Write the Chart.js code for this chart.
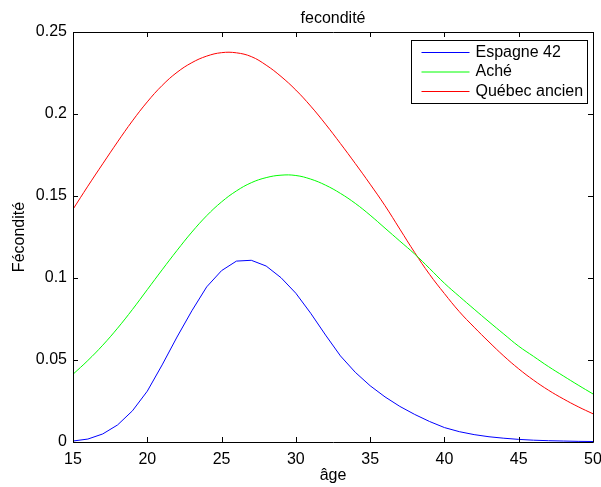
<!DOCTYPE html>
<html>
<head>
<meta charset="utf-8">
<script src="https://cdn.jsdelivr.net/npm/chart.js@4/dist/chart.umd.min.js"></script>
<style>
  body { margin: 0; background: #fff; }
  canvas { display: block; }
</style>
</head>
<body>
<canvas id="grafico" width="601" height="487"></canvas>
<script>
/* donnees */
var ages = [15,16,17,18,19,20,21,22,23,24,25,26,27,28,29,30,31,32,33,34,35,36,37,38,39,40,41,42,43,44,45,46,47,48,49,50];

var espagne = [0.0006,0.0018,0.0049,0.0104,0.019,0.031,0.047,0.064,0.080,0.0946,0.1045,0.1103,0.1108,0.1073,0.1002,0.0907,
  0.0785,0.0652,0.0525,0.0425,0.0343,0.0275,0.0217,0.0168,0.0125,0.0088,0.0063,0.0045,0.0032,0.0023,0.0016,0.0011,0.0008,0.0006,0.0004,0.0003];

var ache = [0.0413,0.0497,0.0590,0.0694,0.0808,0.0929,0.1050,0.1168,0.1280,0.1380,0.1464,0.1531,0.1581,0.1612,0.1627,0.1625,
  0.1603,0.1566,0.1516,0.1455,0.1383,0.1304,0.1225,0.1146,0.1058,0.0968,0.0888,0.0810,0.0733,0.0658,0.0584,0.0522,0.0460,0.0403,0.0347,0.0293];

var quebec = [0.1419,0.1560,0.1696,0.1830,0.1958,0.2074,0.2174,0.2254,0.2313,0.2353,0.2374,0.2373,0.2350,0.2298,0.2229,0.2146,
  0.2048,0.1938,0.1820,0.1698,0.1572,0.1441,0.1298,0.1155,0.1022,0.0905,0.0795,0.0700,0.0610,0.0524,0.0446,0.0377,0.0316,0.0263,0.0215,0.0172];

var xTicks = [15,20,25,30,35,40,45,50];
var yTicks = [0,0.05,0.1,0.15,0.2,0.25];

var police = 'Liberation Sans, Arial, Helvetica, sans-serif';

function points(vals) {
  return ages.map(function(a, i){ return {x: a, y: vals[i]}; });
}

/* cadre, graduations, titre et legende a la matlab */
var cadre = {
  id: 'cadre',
  afterDraw: function(chart) {
    var ctx = chart.ctx;
    var a = chart.chartArea;
    var xs = chart.scales.x, ys = chart.scales.y;
    var tl = 5;
    ctx.save();
    ctx.strokeStyle = '#000';
    ctx.lineWidth = 1;
    ctx.beginPath();
    ctx.rect(Math.round(a.left) + 0.5, Math.round(a.top) + 0.5, Math.round(a.right - a.left), Math.round(a.bottom - a.top));
    xTicks.forEach(function(t){
      var px = Math.round(xs.getPixelForValue(t)) + 0.5;
      ctx.moveTo(px, a.bottom); ctx.lineTo(px, a.bottom - tl);
      ctx.moveTo(px, a.top); ctx.lineTo(px, a.top + tl);
    });
    yTicks.forEach(function(t){
      var py = Math.round(ys.getPixelForValue(t)) + 0.5;
      ctx.moveTo(a.left, py); ctx.lineTo(a.left + tl, py);
      ctx.moveTo(a.right, py); ctx.lineTo(a.right - tl, py);
    });
    ctx.stroke();

    // titre
    ctx.fillStyle = '#000';
    ctx.font = '16px ' + police;
    ctx.textAlign = 'center';
    ctx.textBaseline = 'alphabetic';
    ctx.fillText('fecondité', (a.left + a.right) / 2, 23);

    // legende
    var w = 176, h = 63;
    var bx = Math.round(a.right - 6 - w) + 0.5, by = Math.round(a.top + 8) + 0.5;
    ctx.fillStyle = '#fff';
    ctx.fillRect(bx, by, w, h);
    ctx.strokeRect(bx, by, w, h);
    ctx.textAlign = 'left';
    ctx.textBaseline = 'middle';
    chart.data.datasets.forEach(function(ds, i){
      var ly = by + 12 + i * 19.5;
      ctx.strokeStyle = ds.borderColor;
      ctx.beginPath();
      ctx.moveTo(bx + 10, ly); ctx.lineTo(bx + 58, ly);
      ctx.stroke();
      ctx.fillStyle = '#000';
      ctx.fillText(ds.label, bx + 64, ly);
    });
    ctx.restore();
  }
};

var ctx = document.getElementById('grafico');
var graphe = new Chart(ctx, {
  type: 'line',
  data: {
    datasets: [
      { label: 'Espagne 42', data: points(espagne), borderColor: '#0000ff' },
      { label: 'Aché', data: points(ache), borderColor: '#00ff00', tension: 0.4 },
      { label: 'Québec ancien', data: points(quebec), borderColor: '#ff0000', tension: 0.4 }
    ]
  },
  options: {
    responsive: false,
    animation: false,
    events: [],
    elements: {
      line: { borderWidth: 1, tension: 0, fill: false },
      point: { radius: 0 }
    },
    layout: { padding: { left: 0, top: 32, right: 8, bottom: 0 } },
    plugins: { legend: { display: false }, title: { display: false }, tooltip: { enabled: false } },
    scales: {
      x: {
        type: 'linear', min: 15, max: 50,
        afterBuildTicks: function(s){ s.ticks = xTicks.map(function(v){ return {value: v}; }); },
        afterFit: function(s){ s.height = 45; s.paddingLeft = 0; s.paddingRight = 0; },
        grid: { display: false, drawTicks: false },
        border: { display: false },
        ticks: { color: '#000', font: { family: police, size: 16 }, padding: 8, maxRotation: 0,
          callback: function(v){ return String(v); } },
        title: { display: true, text: 'âge', color: '#000', font: { family: police, size: 16 }, padding: { top: 0, bottom: 2 } }
      },
      y: {
        type: 'linear', min: 0, max: 0.25,
        afterBuildTicks: function(s){ s.ticks = yTicks.map(function(v){ return {value: v}; }); },
        afterFit: function(s){ s.width = 73; },
        grid: { display: false, drawTicks: false },
        border: { display: false },
        ticks: { color: '#000', font: { family: police, size: 16 }, padding: 6,
          callback: function(v){ return String(+v.toFixed(2)); } },
        title: { display: true, text: 'Fécondité', color: '#000', font: { family: police, size: 16 }, padding: { top: 10, bottom: 0 } }
      }
    }
  },
  plugins: [cadre]
});
</script>
</body>
</html>
